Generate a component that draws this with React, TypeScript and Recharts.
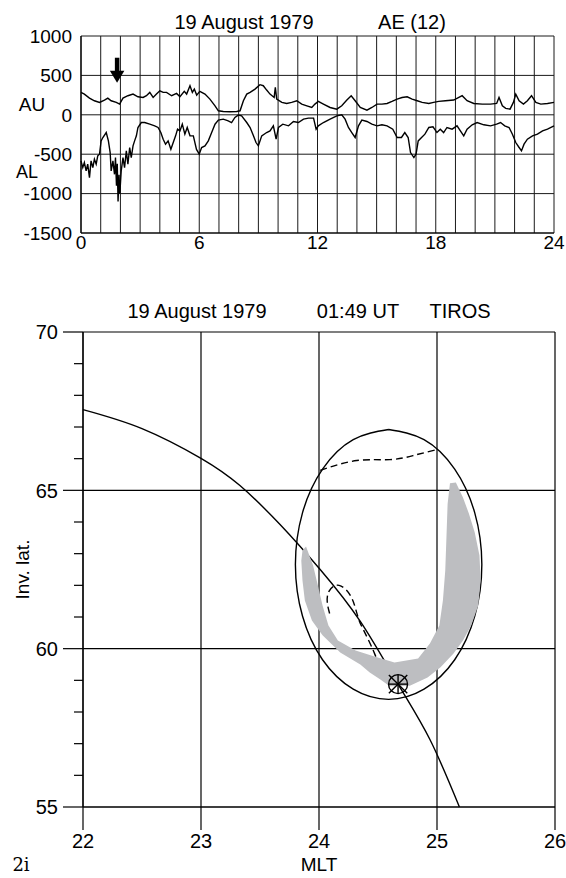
import React from 'react';
import { LineChart, ComposedChart, Line, Scatter, XAxis, YAxis, CartesianGrid, ReferenceLine, ReferenceDot } from 'recharts';

const FONT = '"Liberation Sans", Arial, Helvetica, sans-serif';

// ---- AE(12) panel: UT hour, nT ----
const AU: [number, number][] = [
  [0, 284], [0.17, 263], [0.43, 212], [0.68, 178], [0.94, 157], [1.19, 187], [1.36, 212], [1.53, 178],
  [1.79, 157], [1.96, 136], [2.13, 212], [2.38, 242], [2.64, 263], [2.89, 229], [3.15, 220], [3.32, 242],
  [3.49, 284], [3.66, 220], [3.83, 263], [4.0, 305], [4.17, 284], [4.34, 284], [4.6, 242], [4.85, 271],
  [5.02, 229], [5.24, 297], [5.36, 263], [5.53, 369], [5.65, 284], [5.75, 326], [5.87, 250], [6.03, 297],
  [6.29, 263], [6.54, 199], [6.8, 114], [6.97, 51], [7.22, 42], [7.56, 38], [7.9, 42], [8.07, 51],
  [8.24, 178], [8.41, 263], [8.58, 284], [8.83, 326], [9.08, 382], [9.25, 369], [9.42, 314], [9.59, 263],
  [9.8, 220], [9.86, 348], [9.93, 199], [10.19, 157], [10.44, 144], [10.69, 157], [10.95, 178], [11.2, 136],
  [11.46, 114], [11.71, 93], [11.87, 136], [12.04, 170], [12.3, 136], [12.64, 93], [12.98, 72], [13.23, 114],
  [13.49, 187], [13.71, 242], [13.91, 178], [14.17, 93], [14.51, 59], [14.76, 93], [15.02, 136], [15.27, 136],
  [15.53, 144], [15.78, 170], [16.04, 199], [16.29, 220], [16.55, 229], [16.8, 199], [17.06, 178], [17.31, 157],
  [17.65, 144], [17.89, 157], [18.15, 170], [18.49, 178], [18.91, 187], [19.34, 242], [19.59, 178], [19.93, 144],
  [20.36, 136], [20.78, 136], [21.09, 144], [21.21, 220], [21.38, 114], [21.55, 81], [21.77, 72], [21.94, 157],
  [22.06, 263], [22.23, 178], [22.45, 136], [22.65, 178], [22.86, 242], [23.08, 157], [23.33, 136], [23.67, 144],
  [24, 157],
];

const AL: [number, number][] = [
  [0, -585], [0.09, -670], [0.17, -606], [0.26, -712], [0.34, -627], [0.43, -797], [0.51, -585], [0.6, -670],
  [0.68, -564], [0.77, -627], [0.85, -521], [0.94, -500], [1.02, -331], [1.11, -288], [1.28, -225], [1.39, -331],
  [1.48, -479], [1.53, -712], [1.62, -585], [1.7, -755], [1.75, -543], [1.8, -900], [1.84, -620], [1.88, -1100],
  [1.93, -760], [1.97, -1000], [2.04, -712], [2.13, -543], [2.21, -670], [2.3, -458], [2.38, -627], [2.47, -415],
  [2.55, -543], [2.64, -394], [2.72, -331], [2.81, -267], [2.89, -161], [3.06, -98], [3.23, -98], [3.49, -119],
  [3.74, -140], [3.91, -161], [4.05, -225], [4.17, -310], [4.29, -373], [4.42, -331], [4.56, -437], [4.68, -352],
  [4.8, -267], [4.9, -182], [5.02, -204], [5.14, -119], [5.27, -246], [5.39, -161], [5.53, -267], [5.7, -267],
  [5.86, -440], [6.0, -500], [6.12, -415], [6.29, -394], [6.46, -331], [6.63, -225], [6.8, -119], [6.97, -68],
  [7.22, -55], [7.47, -76], [7.64, -98], [7.81, -34], [7.98, -4], [8.15, -13], [8.41, -98], [8.58, -161],
  [8.75, -267], [8.88, -352], [9.0, -394], [9.17, -267], [9.42, -225], [9.59, -204], [9.76, -140], [9.9, -310],
  [10.02, -161], [10.24, -119], [10.53, -140], [10.78, -85], [11.03, -98], [11.29, -55], [11.54, -42], [11.8, -42],
  [11.93, -182], [12.04, -140], [12.3, -98], [12.64, -55], [12.98, -13], [13.23, 0], [13.4, -55], [13.57, -161],
  [13.74, -225], [13.91, -288], [14.08, -140], [14.25, -68], [14.51, -85], [14.76, -119], [15.02, -140], [15.27, -127],
  [15.53, -140], [15.82, -182], [16.04, -288], [16.26, -288], [16.43, -225], [16.6, -288], [16.72, -479], [16.89, -543],
  [17.0, -500], [17.11, -331], [17.28, -288], [17.45, -246], [17.65, -161], [17.86, -153], [18.06, -225], [18.23, -182],
  [18.4, -225], [18.57, -161], [18.83, -182], [19.08, -140], [19.25, -204], [19.42, -267], [19.59, -182], [19.85, -127],
  [20.1, -98], [20.44, -127], [20.78, -140], [21.09, -119], [21.29, -98], [21.5, -140], [21.72, -161], [21.89, -246],
  [22.06, -352], [22.23, -415], [22.35, -458], [22.48, -373], [22.65, -310], [22.91, -267], [23.16, -246], [23.42, -204],
  [23.67, -182], [24, -140],
];

const UT_TICKS = [0, 1, 2, 3, 4, 5, 6, 7, 8, 9, 10, 11, 12, 13, 14, 15, 16, 17, 18, 19, 20, 21, 22, 23, 24];
const AE_TICKS = [-1500, -1000, -500, 0, 500, 1000];
const ONSET = { h: 1.82, v: 407 };

// ---- TIROS panel: MLT hour, invariant latitude ----
const MLT_TICKS = [22, 23, 24, 25, 26];
const LAT_TICKS = [55, 56, 57, 58, 59, 60, 61, 62, 63, 64, 65, 66, 67, 68, 69, 70];
const LAT_GRID = [55, 60, 65, 70];

const TRACK: [number, number][] = [
  [22.0, 67.55], [22.5, 66.95], [23.0, 66.01], [23.33, 65.15], [23.67, 63.92], [24.01, 62.5],
  [24.35, 60.86], [24.67, 58.88], [24.94, 57.13], [25.19, 55.0],
];

const OVAL: [number, number][] = [
  [24.59, 66.92], [24.89, 66.6], [25.15, 65.67], [25.32, 64.29], [25.38, 62.66], [25.32, 61.03], [25.15, 59.65],
  [24.89, 58.72], [24.59, 58.4], [24.29, 58.72], [24.03, 59.65], [23.86, 61.03], [23.8, 62.66], [23.86, 64.29],
  [24.03, 65.67], [24.29, 66.6], [24.59, 66.92],
];

const BAND: [number, number][] = [
  [23.89, 63.23], [23.95, 62.63], [23.99, 62.0], [24.03, 61.36], [24.08, 60.73], [24.16, 60.26], [24.31, 59.94],
  [24.47, 59.75], [24.64, 59.56], [24.84, 59.69], [24.94, 60.16], [25.02, 60.73], [25.05, 61.52], [25.07, 62.47],
  [25.08, 63.51], [25.09, 64.58], [25.11, 65.22], [25.16, 65.25], [25.22, 64.77], [25.27, 64.27], [25.32, 63.67],
  [25.36, 62.94], [25.37, 62.15], [25.35, 61.36], [25.29, 60.73], [25.22, 60.26], [25.14, 59.85], [25.03, 59.41],
  [24.92, 59.09], [24.77, 58.83], [24.6, 58.81], [24.52, 59.03], [24.43, 59.25], [24.35, 59.5], [24.18, 59.88],
  [24.03, 60.42], [23.94, 60.89], [23.88, 61.52], [23.86, 62.15], [23.85, 62.78], [23.86, 63.1],
];

const EDGE_POLEWARD: [number, number][] = [
  [24.01, 65.63], [24.32, 65.94], [24.6, 65.97], [24.8, 66.1], [25.0, 66.29],
];

const EDGE_LOOP: [number, number][] = [
  [24.09, 61.11], [24.07, 61.47], [24.08, 61.78], [24.12, 61.96], [24.17, 62.0], [24.23, 61.86], [24.28, 61.58],
  [24.31, 61.26], [24.34, 60.89], [24.38, 60.57], [24.46, 59.94], [24.53, 59.42], [24.67, 58.88],
];

const SATELLITE: [number, number][] = [[24.67, 58.88]];

const hv = (a: [number, number][]) => a.map(([h, v]) => ({ h, v }));
const xy = (a: [number, number][]) => a.map(([x, y]) => ({ x, y }));

const Arrow = (p: any) => {
  const { cx, cy } = p;
  return (
    <g fill="#000">
      <rect x={cx - 2} y={cy - 25} width={4.5} height={14} />
      <polygon points={`${cx - 7},${cy - 12} ${cx + 7.5},${cy - 12} ${cx + 0.2},${cy}`} />
    </g>
  );
};

const Station = (p: any) => {
  const { cx, cy } = p;
  const r = 9.5;
  const d = 9.2;
  return (
    <g stroke="#000" strokeWidth={1.4} fill="none">
      <circle cx={cx} cy={cy} r={r} />
      <line x1={cx - r} x2={cx + r} y1={cy} y2={cy} />
      <line x1={cx} x2={cx} y1={cy - r} y2={cy + r} />
      <line x1={cx - d} x2={cx + d} y1={cy - d} y2={cy + d} />
      <line x1={cx - d} x2={cx + d} y1={cy + d} y2={cy - d} />
    </g>
  );
};

const LatTick = (p: any) => {
  const v = p.payload.value;
  const major = v % 5 === 0;
  return (
    <g>
      <line x1={p.x - (major ? 20 : 9)} x2={p.x} y1={p.y} y2={p.y} stroke="#000" strokeWidth={1.2} />
      {major && (
        <text x={p.x - 25} y={p.y} dy="0.36em" textAnchor="end" fontSize={20} fontFamily={FONT} fill="#000">
          {v}
        </text>
      )}
    </g>
  );
};

const none = () => <g />;

const abs = (left: number, top: number, size = 20): React.CSSProperties => ({
  position: 'absolute',
  left,
  top,
  transform: 'translate(-50%, -50%)',
  fontSize: size,
  lineHeight: 1,
  whiteSpace: 'nowrap',
  color: '#000',
});

export default function App() {
  const tickStyle = { fill: '#000', fontSize: 19, fontFamily: FONT };
  return (
    <div style={{ position: 'absolute', left: 0, top: 0, width: 566, height: 878, background: '#fff', fontFamily: FONT }}>
      <div style={abs(244, 22)}>19 August 1979</div>
      <div style={abs(412, 22)}>AE (12)</div>
      <div style={abs(32, 104, 19)}>AU</div>
      <div style={abs(27, 172, 18)}>AL</div>

      <div style={{ position: 'absolute', left: 0, top: 0 }}>
        <LineChart width={566} height={262} margin={{ top: 36, right: 12, bottom: 9, left: 0 }}>
          <CartesianGrid stroke="#1a1a1a" strokeWidth={1} />
          <XAxis
            type="number"
            dataKey="h"
            domain={[0, 24]}
            ticks={UT_TICKS}
            interval={0}
            tickFormatter={(v: number) => (v % 6 === 0 ? String(v) : '')}
            tickLine={false}
            tickSize={0}
            tickMargin={3}
            height={20}
            axisLine={{ stroke: '#000' }}
            tick={tickStyle}
          />
          <YAxis
            type="number"
            domain={[-1500, 1000]}
            ticks={AE_TICKS}
            interval={0}
            width={81}
            tickLine={false}
            tickSize={0}
            tickMargin={9}
            axisLine={{ stroke: '#000', strokeWidth: 1.2 }}
            tick={tickStyle}
          />
          <Line data={hv(AU)} dataKey="v" stroke="#000" strokeWidth={1.4} dot={false} type="linear" isAnimationActive={false} />
          <Line data={hv(AL)} dataKey="v" stroke="#000" strokeWidth={1.4} dot={false} type="linear" isAnimationActive={false} />
          <ReferenceDot x={ONSET.h} y={ONSET.v} r={0} shape={Arrow} ifOverflow="visible" />
        </LineChart>
      </div>

      <div style={abs(197, 311)}>19 August 1979</div>
      <div style={abs(358, 311)}>01:49 UT</div>
      <div style={abs(460, 311)}>TIROS</div>
      <div style={{ ...abs(21, 865, 18), fontFamily: '"DejaVu Serif", "Liberation Serif", serif' }}>2i</div>

      <div style={{ position: 'absolute', left: 0, top: 262 }}>
        <ComposedChart width={566} height={616} margin={{ top: 70, right: 11, bottom: 5, left: 0 }}>
          <XAxis
            type="number"
            dataKey="x"
            domain={[22, 26]}
            ticks={MLT_TICKS}
            interval={0}
            tickSize={23}
            tickMargin={4}
            height={66}
            tickLine={{ stroke: '#000', strokeWidth: 1.2 }}
            axisLine={{ stroke: '#000', strokeWidth: 1.2 }}
            tick={{ fill: '#000', fontSize: 20, fontFamily: FONT }}
            label={{ value: 'MLT', position: 'insideBottom', offset: 2, fill: '#000', fontSize: 19, fontFamily: FONT }}
          />
          <YAxis
            type="number"
            dataKey="y"
            domain={[55, 70]}
            ticks={LAT_TICKS}
            interval={0}
            width={83}
            tickLine={false}
            tickSize={0}
            tickMargin={0}
            tick={LatTick}
            axisLine={{ stroke: '#000', strokeWidth: 1.2 }}
            label={{
              value: 'Inv. lat.',
              angle: -90,
              position: 'insideLeft',
              offset: 22,
              fill: '#000',
              fontSize: 19,
              fontFamily: FONT,
              style: { textAnchor: 'middle' },
            }}
          />
          <Scatter
            data={xy(BAND)}
            fill="#bdbec1"
            line={{ fill: '#bdbec1', stroke: 'none' }}
            lineType="joint"
            lineJointType="linear"
            shape={none}
            legendType="none"
            isAnimationActive={false}
          />
          {LAT_GRID.map((v) => (
            <ReferenceLine key={`lat${v}`} y={v} stroke="#000" strokeWidth={1.2} />
          ))}
          {MLT_TICKS.map((v) => (
            <ReferenceLine key={`mlt${v}`} x={v} stroke="#000" strokeWidth={1.2} />
          ))}
          <Line data={xy(OVAL)} dataKey="y" stroke="#000" strokeWidth={1.4} dot={false} type="natural" isAnimationActive={false} />
          <Line data={xy(TRACK)} dataKey="y" stroke="#000" strokeWidth={1.4} dot={false} type="natural" isAnimationActive={false} />
          <Line
            data={xy(EDGE_POLEWARD)}
            dataKey="y"
            stroke="#000"
            strokeWidth={1.4}
            strokeDasharray="7 4"
            dot={false}
            type="natural"
            isAnimationActive={false}
          />
          <Line
            data={xy(EDGE_LOOP)}
            dataKey="y"
            stroke="#000"
            strokeWidth={1.4}
            strokeDasharray="7 4"
            dot={false}
            type="natural"
            isAnimationActive={false}
          />
          <Scatter data={xy(SATELLITE)} shape={Station} legendType="none" isAnimationActive={false} />
        </ComposedChart>
      </div>
    </div>
  );
}
